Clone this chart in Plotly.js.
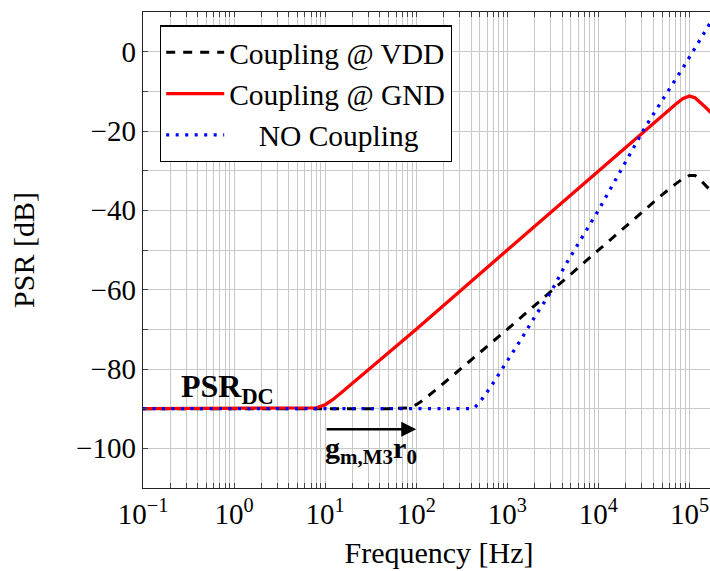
<!DOCTYPE html>
<html>
<head>
<meta charset="utf-8">
<script src="https://cdn.plot.ly/plotly-3.0.1.min.js"></script>
<style>
html, body { margin: 0; padding: 0; overflow: hidden; background: #fff; width: 710px; height: 571px; }
#chart { width: 760px; height: 571px; }
</style>
</head>
<body>
<div id="chart"></div>
<script>
// Frequencies in Hz and PSR in dB
const freqVDD = [0.1, 1, 10, 50, 80, 100, 120, 150, 200, 1000, 10000, 50000, 70000, 85000, 100000, 115000, 130000, 150000, 175000, 250000];
const psrVDD  = [-90, -90, -90, -90, -89.8, -89, -87.8, -86, -83.6, -70, -50, -36.1, -33.4, -32, -31.2, -31.2, -32.2, -33.8, -35.3, -39];

const freqGND = [0.1, 1, 5, 8, 10, 12, 15, 20, 50, 100, 1000, 10000, 50000, 70000, 85000, 100000, 115000, 130000, 150000, 175000, 250000];
const psrGND  = [-90, -90, -90, -89.8, -89, -87.8, -86, -83.6, -76, -70, -50, -30, -16.1, -13.3, -11.8, -11.2, -11.6, -12.6, -14, -15.5, -19];

const freqNO  = [0.1, 1, 10, 100, 400, 440, 520, 667, 975, 1426, 2084, 3048, 4266, 6138, 10000, 32300, 89000, 167000, 300000];
const psrNO   = [-90, -90, -90, -90, -90, -89.7, -87.8, -84.3, -78.4, -72.4, -66.2, -60.4, -54.1, -48.0, -40, -19.2, -3.3, 7.05, 16.8];

const seriesNames = ["Coupling @ VDD", "Coupling @ GND", "\u2003NO Coupling"];

const xTickDecades = [-1, 0, 1, 2, 3, 4, 5];
const xTickLabels  = ["10<sup>\u22121</sup>", "10<sup>0</sup>", "10<sup>1</sup>", "10<sup>2</sup>", "10<sup>3</sup>", "10<sup>4</sup>", "10<sup>5</sup>"];
const yTickVals    = [-110, -100, -90, -80, -70, -60, -50, -40, -30, -20, -10, 0, 10];
const yTickLabels  = ["", "\u2212100", "", "\u221280", "", "\u221260", "", "\u221240", "", "\u221220", "", "0", ""];

// build tick positions (decades plus 2..9 minors) for the log axis
const xTickVals = [], xTickText = [];
xTickDecades.forEach((d, i) => {
  for (let m = 1; m <= 9; m++) {
    xTickVals.push(m * Math.pow(10, d));
    xTickText.push(m === 1 ? xTickLabels[i] : "");
  }
});

const FONT = "Liberation Serif";

const traces = [
  { x: freqVDD, y: psrVDD, name: seriesNames[0], mode: "lines",
    line: { color: "#000000", width: 3, dash: "9px,8px" } },
  { x: freqGND, y: psrGND, name: seriesNames[1], mode: "lines", line: { color: "#ff0000", width: 3.3 } },
  { x: freqNO, y: psrNO, name: seriesNames[2], mode: "lines",
    line: { color: "#0000ff", width: 3.3, dash: "3px,6.5px" } }
];

const layout = {
  width: 760, height: 571,
  margin: { l: 143, r: 25, t: 12, b: 83 },
  paper_bgcolor: "#ffffff", plot_bgcolor: "#ffffff",
  font: { family: FONT, size: 29, color: "#000" },
  showlegend: true,
  legend: { x: 0.0287, y: 0.972, xanchor: "left", yanchor: "top",
    bgcolor: "#ffffff", bordercolor: "#000000", borderwidth: 1.2, itemwidth: 58,
    font: { family: FONT, size: 29.5, color: "#000" }, tracegroupgap: 0 },
  xaxis: {
    type: "log", range: [-1, 5.5], autorange: false,
    tickmode: "array", tickvals: xTickVals, ticktext: xTickText,
    ticks: "inside", ticklen: 5, tickcolor: "#444", tickwidth: 1,
    showgrid: true, gridcolor: "#c8c8c8", gridwidth: 1,
    showline: true, linecolor: "#222", linewidth: 1.3, mirror: "ticks",
    zeroline: false,
    tickfont: { family: FONT, size: 29, color: "#000" },
    title: { text: "Frequency [Hz]", font: { family: FONT, size: 30, color: "#000" }, standoff: 13 }
  },
  yaxis: {
    range: [-110, 10], autorange: false,
    tickmode: "array", tickvals: yTickVals, ticktext: yTickLabels,
    ticks: "inside", ticklen: 5, tickcolor: "#444", tickwidth: 1,
    showgrid: true, gridcolor: "#c8c8c8", gridwidth: 1,
    showline: true, linecolor: "#222", linewidth: 1.3, mirror: "ticks",
    zeroline: false,
    tickfont: { family: FONT, size: 29, color: "#000" },
    title: { text: "PSR [dB]", font: { family: FONT, size: 30, color: "#000" }, standoff: 32 }
  },
  annotations: [
    { x: -0.6, y: -85.0, xref: "x", yref: "y", xanchor: "left", yanchor: "middle",
      text: "<b>PSR<sub>DC</sub></b>", showarrow: false, font: { family: FONT, size: 32, color: "#000" } },
    { x: 2, y: -95.2, ax: 1, ay: -95.2, xref: "x", yref: "y", axref: "x", ayref: "y",
      text: "", showarrow: true, arrowhead: 2, arrowsize: 1.2, arrowwidth: 2.5, arrowcolor: "#000" },
    { x: 0.98, y: -100.3, xref: "x", yref: "y", xanchor: "left", yanchor: "middle",
      text: "<b>g<sub>m,M3</sub>r<sub>0</sub></b>", showarrow: false, font: { family: FONT, size: 30, color: "#000" } }
  ]
};

Plotly.newPlot("chart", traces, layout, { staticPlot: true, displayModeBar: false });
</script>
</body>
</html>
